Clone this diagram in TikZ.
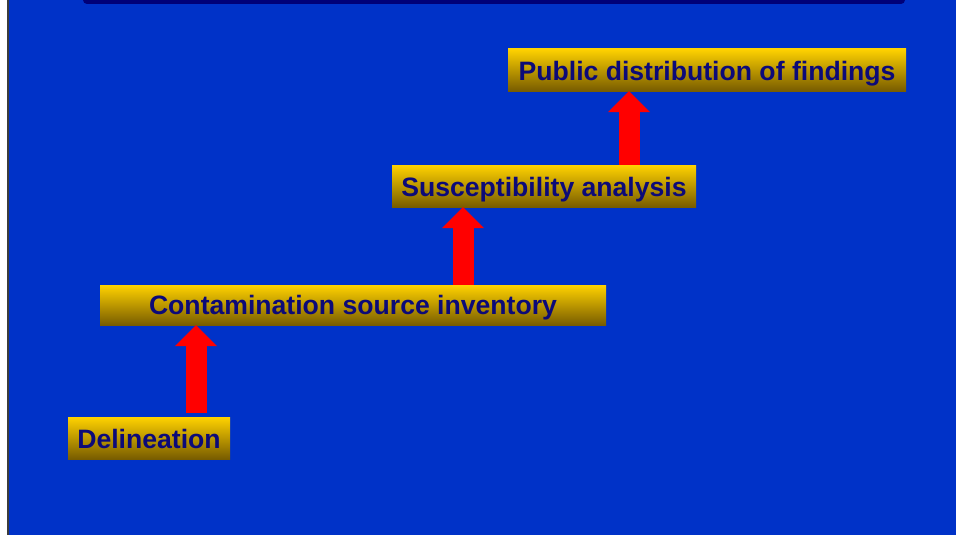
\documentclass[tikz,border=0pt]{standalone}
\usepackage{fontspec}
\setmainfont{Liberation Sans}
\usetikzlibrary{arrows.meta}
\definecolor{bgblue}{RGB}{0,50,200}
\definecolor{navybar}{RGB}{0,0,120}
\definecolor{boxgold}{RGB}{255,210,0}
\definecolor{boxbrown}{RGB}{120,92,0}
\definecolor{textnavy}{RGB}{12,10,120}
\definecolor{edgegray}{RGB}{60,60,60}
\begin{document}
\begin{tikzpicture}[x=1pt,y=-1pt,
  stepbox/.style={rectangle, inner sep=0pt, top color=boxgold, bottom color=boxbrown,
    text=textnavy, font=\fontsize{26.6}{30}\selectfont\bfseries,
    text height=21pt, text depth=0pt, minimum height=42pt},
  bigarrow/.style={draw=red, line width=21pt,
    -{Triangle[width=42pt,length=21pt,line width=0pt]}}]
\useasboundingbox (0,0) rectangle (956,535);
\fill[white] (0,0) rectangle (956,535);
\fill[edgegray] (7,0) rectangle (9,535);
\fill[bgblue] (9,0) rectangle (956,535);
\fill[navybar, rounded corners=4pt] (83,-8) rectangle (905,4);

\node[stepbox, minimum width=162pt] (b1) at (149,438) {Delineation};
\node[stepbox, minimum width=506pt, minimum height=40pt, text height=19pt] (b2) at (353,305) {Contamination source inventory};
\node[stepbox, minimum width=304pt] (b3) at (544,186) {Susceptibility analysis};
\node[stepbox, minimum width=398pt] (b4) at (707,70) {Public distribution of findings};

\coordinate (x1) at (196,0);
\coordinate (x2) at (463,0);
\coordinate (x3) at (629,0);

\draw[bigarrow, shorten <=4pt] (b1.north -| x1) -- (b2.south -| x1);
\draw[bigarrow] (b2.north -| x2) -- (b3.south -| x2);
\draw[bigarrow] (b3.north -| x3) -- (b4.south -| x3);
\end{tikzpicture}
\end{document}
